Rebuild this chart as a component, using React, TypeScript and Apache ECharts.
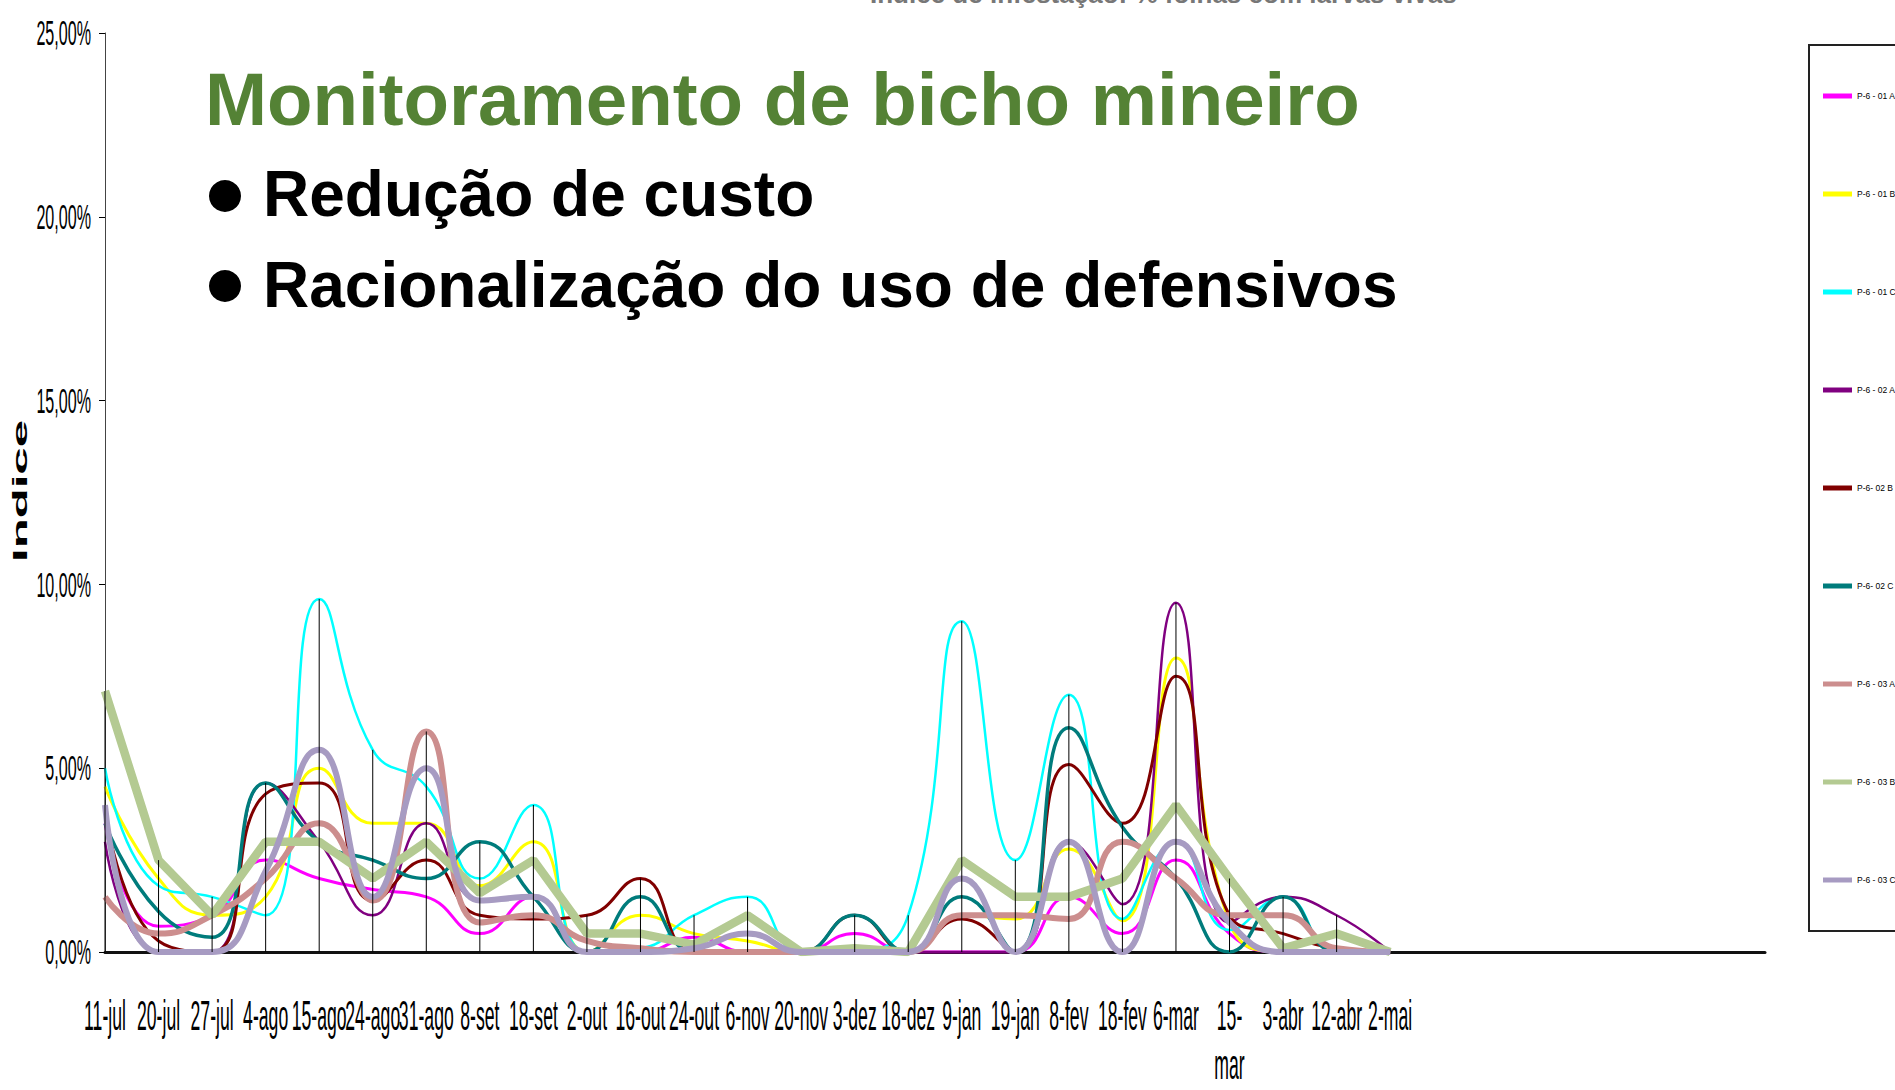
import React, { useEffect, useRef } from "react";
import * as echarts from "echarts";

const categories = [
  "11-jul", "20-jul", "27-jul", "4-ago", "15-ago", "24-ago", "31-ago", "8-set", "18-set", "2-out",
  "16-out", "24-out", "6-nov", "20-nov", "3-dez", "18-dez", "9-jan", "19-jan", "8-fev", "18-fev",
  "6-mar", "15-\nmar", "3-abr", "12-abr", "2-mai", "", "", "", "", "", "", "",
];
const yTicks = [0, 5, 10, 15, 20, 25];

const p601A = [3.5, 0.7, 1.0, 2.5, 2.0, 1.7, 1.5, 0.5, 1.5, 0, 0, 0.4, 0, 0, 0.5, 0, 0, 0, 1.5, 0.5, 2.5, 0.5, 0, 0, 0];
const p601B = [4.5, 2.0, 1.0, 1.5, 5.0, 3.5, 3.5, 1.8, 3.0, 0, 1.0, 0.5, 0.3, 0, 0, 0, 1.0, 0.9, 2.8, 0.85, 8.0, 0.8, 0, 0, 0];
const p601C = [5.0, 1.8, 1.5, 1.0, 9.6, 5.5, 4.5, 2.0, 4.0, 0, 0.1, 1.0, 1.5, 0, 0, 1.0, 9.0, 2.5, 7.0, 0.9, 3.0, 0.6, 1.5, 0, 0];
const p602A = [3.0, 0, 0, 4.6, 3.0, 1.0, 3.5, 1.4, 1.5, 0, 0, 0, 0, 0, 0, 0, 0, 0, 3.0, 1.3, 9.5, 0.8, 1.5, 1.0, 0];
const p602B = [3.8, 0.3, 0, 4.3, 4.6, 1.4, 2.5, 1.0, 0.9, 1.0, 2.0, 0, 0, 0, 1.0, 0, 0.9, 0, 5.1, 3.5, 7.5, 1.0, 0.5, 0.1, 0];
const p602C = [3.5, 1.1, 0.4, 4.6, 3.0, 2.5, 2.0, 3.0, 1.5, 0, 1.5, 0, 0, 0, 1.0, 0, 1.5, 0, 6.1, 3.4, 2.0, 0, 1.5, 0, 0];
const p603A = [1.5, 0.5, 1.0, 2.0, 3.5, 1.4, 6.0, 0.8, 1.0, 0.3, 0.1, 0, 0, 0, 0, 0, 1.0, 1.0, 0.9, 3.0, 2.0, 1.0, 1.0, 0.1, 0];
const p603B = [7.1, 2.5, 1.0, 3.0, 3.0, 2.0, 3.0, 1.6, 2.5, 0.5, 0.5, 0.2, 1.0, 0, 0.1, 0, 2.5, 1.5, 1.5, 2.0, 4.0, 2.0, 0.1, 0.5, 0];
const p603C = [4.0, 0, 0, 2.2, 5.5, 1.5, 5.0, 1.4, 1.5, 0, 0, 0.1, 0.5, 0, 0, 0, 2.0, 0, 3.0, 0, 3.0, 0.8, 0, 0, 0];

const seriesNames = [
  "P-6 - 01 A", "P-6 - 01 B", "P-6 - 01 C", "P-6 - 02 A", "P-6- 02 B",
  "P-6- 02 C", "P-6 - 03 A", "P-6 - 03 B", "P-6 - 03 C",
];
const seriesValues = [p601A, p601B, p601C, p602A, p602B, p602C, p603A, p603B, p603C];
const seriesColors = ["#FF00FF", "#FFFF00", "#00FFFF", "#800080", "#800000", "#007C7C", "#CC8E8E", "#B4CA92", "#A79BC2"];
const seriesWidths = [3, 3, 2.5, 2.5, 3, 3.5, 6, 8.5, 6];
const seriesSmooth = [true, true, true, true, true, true, true, false, true];

const SANS = "'Liberation Sans', Arial, sans-serif";

export default function App() {
  const ref = useRef<HTMLDivElement>(null);

  useEffect(() => {
    if (!ref.current) return;
    const chart = echarts.init(ref.current, undefined, { renderer: "svg" });

    const nData = p601A.length;
    const dropLine = Array.from({ length: nData }, (_, i) =>
      Math.max(...seriesValues.map((s) => s[i]))
    );

    const lineSeries = seriesNames.map((name, k) => ({
      name,
      type: "line",
      data: seriesValues[k],
      smooth: seriesSmooth[k] ? 0.5 : false,
      symbol: "none",
      showSymbol: false,
      itemStyle: { color: seriesColors[k] },
      lineStyle: { color: seriesColors[k], width: seriesWidths[k] },
      z: 2,
    }));

    const option: any = {
      animation: false,
      backgroundColor: "#ffffff",
      title: {
        text: "Índice de infestação: % folhas com larvas vivas",
        left: 870,
        top: -19,
        padding: 0,
        textStyle: { fontFamily: SANS, fontWeight: "bold", fontSize: 26, color: "#777777" },
      },
      grid: { left: 105, right: 130, top: 33, bottom: 138, containLabel: false },
      legend: {
        data: seriesNames,
        orient: "vertical",
        left: 1818,
        top: 84,
        icon: "rect",
        itemWidth: 29,
        itemHeight: 5,
        itemGap: 84,
        textStyle: { fontFamily: SANS, fontSize: 8.5, lineHeight: 14, color: "#000" },
      },
      xAxis: {
        type: "category",
        data: categories,
        boundaryGap: false,
        axisLine: { lineStyle: { color: "#111", width: 3 } },
        axisTick: { show: false },
        axisLabel: { show: false, interval: 0 },
        splitLine: { show: false },
      },
      yAxis: {
        type: "value",
        min: 0,
        max: 25,
        interval: 5,
        axisLine: { show: true, lineStyle: { color: "#444", width: 1 } },
        axisTick: { show: true, length: 6, lineStyle: { color: "#000" } },
        axisLabel: { show: false },
        splitLine: { show: false },
      },
      series: [
        ...lineSeries,
        {
          name: "drop",
          type: "custom",
          data: dropLine.map((v, i) => [i, v]),
          z: 5,
          renderItem: (params: any, api: any) => {
            const idx = api.value(0);
            const v = api.value(1);
            if (!v) return null;
            const top = api.coord([idx, v]);
            const bottom = api.coord([idx, 0]);
            return {
              type: "line",
              shape: { x1: top[0], y1: top[1], x2: bottom[0], y2: bottom[1] },
              style: { stroke: "#000", lineWidth: 1 },
            };
          },
        },
      ],
    };

    chart.setOption(option);

    // axis labels, placed through the axes' own scales
    const x0 = chart.convertToPixel({ xAxisIndex: 0 }, 0) as number;
    const y0 = chart.convertToPixel({ yAxisIndex: 0 }, 0) as number;
    const labelLine = 49;

    const xLabelGraphics = categories
      .map((c, i) => ({ c, i }))
      .filter((d) => d.c !== "")
      .map((d) => ({
        id: "xl" + d.i,
        type: "text",
        x: chart.convertToPixel({ xAxisIndex: 0 }, d.i) as number,
        y: y0 + 63 - labelLine / 2,
        scaleX: 0.41,
        silent: true,
        style: {
          text: d.c,
          fontFamily: SANS,
          fontSize: 43,
          lineHeight: labelLine,
          fill: "#000",
          align: "center",
          verticalAlign: "top",
        },
      }));

    const yLabelGraphics = yTicks.map((v) => ({
      id: "yl" + v,
      type: "text",
      x: x0 - 14,
      y: chart.convertToPixel({ yAxisIndex: 0 }, v) as number,
      scaleX: 0.46,
      silent: true,
      style: {
        text: v.toFixed(2).replace(".", ",") + "%",
        fontFamily: SANS,
        fontSize: 35,
        fill: "#000",
        align: "right",
        verticalAlign: "middle",
      },
    }));

    const staticGraphics: any[] = [
      {
        id: "legendBox",
        type: "rect",
        shape: { x: 1809, y: 45, width: 200, height: 886 },
        style: { fill: "none", stroke: "#222", lineWidth: 2 },
        z: 0,
      },
      {
        id: "yname",
        type: "text",
        x: 20,
        y: 491,
        rotation: Math.PI / 2,
        scaleX: 2.34,
        style: {
          text: "Indice",
          fontFamily: SANS,
          fontWeight: "bold",
          fontSize: 21,
          fill: "#000",
          align: "center",
          verticalAlign: "middle",
        },
      },
      {
        id: "t1",
        type: "text",
        x: 205,
        y: 99,
        style: {
          text: "Monitoramento de bicho mineiro",
          fontFamily: SANS,
          fontWeight: "bold",
          fontSize: 74.5,
          fill: "#548235",
          align: "left",
          verticalAlign: "middle",
        },
        z: 10,
      },
      { id: "b1", type: "circle", shape: { cx: 225, cy: 196, r: 16 }, style: { fill: "#000" }, z: 10 },
      {
        id: "t2",
        type: "text",
        x: 263,
        y: 194,
        style: {
          text: "Redução de custo",
          fontFamily: SANS,
          fontWeight: "bold",
          fontSize: 64,
          fill: "#000",
          align: "left",
          verticalAlign: "middle",
        },
        z: 10,
      },
      { id: "b2", type: "circle", shape: { cx: 225, cy: 286, r: 16 }, style: { fill: "#000" }, z: 10 },
      {
        id: "t3",
        type: "text",
        x: 263,
        y: 285,
        style: {
          text: "Racionalização do uso de defensivos",
          fontFamily: SANS,
          fontWeight: "bold",
          fontSize: 64,
          fill: "#000",
          align: "left",
          verticalAlign: "middle",
        },
        z: 10,
      },
    ];

    chart.setOption({ graphic: [...staticGraphics, ...xLabelGraphics, ...yLabelGraphics] });

    return () => chart.dispose();
  }, []);

  return (
    <div
      ref={ref}
      style={{ position: "fixed", left: 0, top: 0, width: 1895, height: 1090, background: "#fff" }}
    />
  );
}
